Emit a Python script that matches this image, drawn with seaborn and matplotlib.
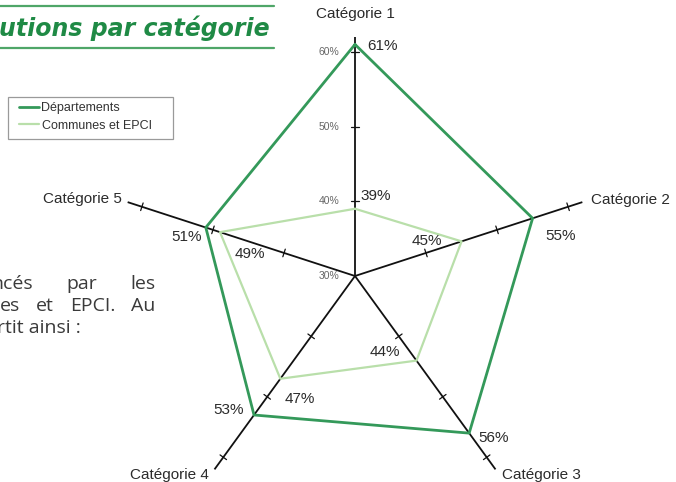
import numpy as np
import matplotlib
matplotlib.use("Agg")
import matplotlib.pyplot as plt
from matplotlib.lines import Line2D
from matplotlib.patches import Rectangle
import seaborn as sns

# ---- data ----
categories = ["Catégorie 1", "Catégorie 2", "Catégorie 3", "Catégorie 4", "Catégorie 5"]
departements = [61, 55, 56, 53, 51]
communes_epci = [39, 45, 44, 47, 49]
series_names = ["Départements", "Communes et EPCI"]
radial_ticks = [30, 40, 50, 60]
spoke_ticks = [40, 50, 60]

# ---- style ----
sns.set_theme(style="white")
plt.rcParams["font.family"] = ["Liberation Sans", "DejaVu Sans"]

GREEN_DARK = "#34995a"
GREEN_LIGHT = "#b9dfaa"
TXT = "#2b2b2b"

R_MIN, R_MAX, R_SPOKE = 30, 66, 62
PX_PER_UNIT = 7.47          # pixels per percentage point
CX, CY = 355, 276           # centre of the radar, pixels from top-left
W, H = 676, 482

fig = plt.figure(figsize=(W / 100, H / 100), dpi=100)
rad_px = (R_MAX - R_MIN) * PX_PER_UNIT
ax = fig.add_axes([(CX - rad_px) / W, (H - CY - rad_px) / H,
                   2 * rad_px / W, 2 * rad_px / H], projection="polar")
ax.set_theta_zero_location("N")
ax.set_theta_direction(-1)
ax.set_ylim(R_MIN, R_MAX)
ax.set_xticks([])
ax.set_yticks([])
ax.grid(False)
ax.spines["polar"].set_visible(False)
ax.patch.set_alpha(0)

n = len(categories)
theta = np.linspace(0, 2 * np.pi, n, endpoint=False)

# spokes with small cross ticks
for t in theta:
    ax.plot([t, t], [R_MIN, R_SPOKE], color="#111111", lw=1.3, solid_capstyle="butt", zorder=2)
    for r in spoke_ticks:
        dt = 4.0 / ((r - R_MIN) * PX_PER_UNIT)
        ax.plot([t - dt, t + dt], [r, r], color="#111111", lw=0.9, zorder=2)

# radar polygons
th_closed = np.append(theta, theta[0] + 2 * np.pi)
sns.lineplot(x=th_closed, y=np.append(communes_epci, communes_epci[0]), sort=False,
             estimator=None, color=GREEN_LIGHT, lw=1.6, ax=ax, zorder=3)
sns.lineplot(x=th_closed, y=np.append(departements, departements[0]), sort=False,
             estimator=None, color=GREEN_DARK, lw=2.0, ax=ax, zorder=4)
ax.set_xlabel("")
ax.set_ylabel("")

# radial scale labels on the vertical spoke
for r in radial_ticks:
    ax.annotate(f"{r}%", (0, r), xytext=(-16, 0), textcoords="offset pixels",
                ha="right", va="center", fontsize=7.5, color="#666666", annotation_clip=False)

# category labels at the end of each spoke
cat_offsets = [(0, 23, "center", "center"), (9, 2, "left", "center"),
               (6, -6, "left", "center"), (-6, -6, "right", "center"),
               (-6, 3, "right", "center")]
for t, name, (dx, dy, ha, va) in zip(theta, categories, cat_offsets):
    ax.annotate(name, (t, R_SPOKE), xytext=(dx, dy), textcoords="offset pixels",
                ha=ha, va=va, fontsize=11, color=TXT, annotation_clip=False)

# value labels
dep_offsets = [(27, -2), (28, -18), (24, -5), (-25, 5), (-19, -9)]
com_offsets = [(21, 13), (-35, 0), (-32, 9), (19, -20), (30, -22)]
for vals, offs in ((departements, dep_offsets), (communes_epci, com_offsets)):
    for t, v, (dx, dy) in zip(theta, vals, offs):
        ax.annotate(f"{v}%", (t, v), xytext=(dx, dy), textcoords="offset pixels",
                    ha="center", va="center", fontsize=11, color=TXT, annotation_clip=False)

# legend: entries plus a plain rectangular frame
handles = [Line2D([], [], color=GREEN_DARK, lw=2.0),
           Line2D([], [], color=GREEN_LIGHT, lw=1.6)]
leg = fig.legend(handles, series_names, loc="upper left",
                 bbox_to_anchor=(19 / W, 1 - 102 / H), frameon=False,
                 fontsize=9.0, handlelength=1.6, handletextpad=0.2,
                 labelspacing=0.45, borderpad=0, borderaxespad=0)
for txt in leg.get_texts():
    txt.set_color("#333333")
fig.add_artist(Rectangle((8 / W, 1 - 139 / H), 165 / W, 42 / H, transform=fig.transFigure,
                         fill=False, edgecolor="#9a9a9a", lw=0.9))

# section heading with rules
for y in (6, 48):
    fig.add_artist(Line2D([0, 274 / W], [1 - y / H, 1 - y / H], transform=fig.transFigure,
                          color="#4fa668", lw=1.6))
fig.text(-0.001, 1 - 28 / H, "utions par catégorie", fontsize=17, fontweight="bold",
         fontstyle="italic", family="DejaVu Sans", color="#1f8a45", ha="left", va="center")

# body text fragments, justified between two x positions
body_kw = dict(fontsize=14, family="Open Sans", color="#3a3a3a", va="center", ha="left")
renderer = fig.canvas.get_renderer()


def justified_line(words, y_px, x0_px, x1_px):
    items = [fig.text(0, 0, w, **body_kw) for w in words]
    widths = [it.get_window_extent(renderer).width for it in items]
    gap = (x1_px - x0_px - sum(widths)) / max(len(words) - 1, 1)
    x = x0_px
    for it, w in zip(items, widths):
        it.set_position((x / W, 1 - y_px / H))
        x += w + gap


justified_line(["ncés", "par", "les"], 284, -9, 155)
justified_line(["es", "et", "EPCI.", "Au"], 306, 0, 155)
fig.text(-3 / W, 1 - 328 / H, "rtit ainsi :", **body_kw)

fig.savefig("out.png", dpi=100)
